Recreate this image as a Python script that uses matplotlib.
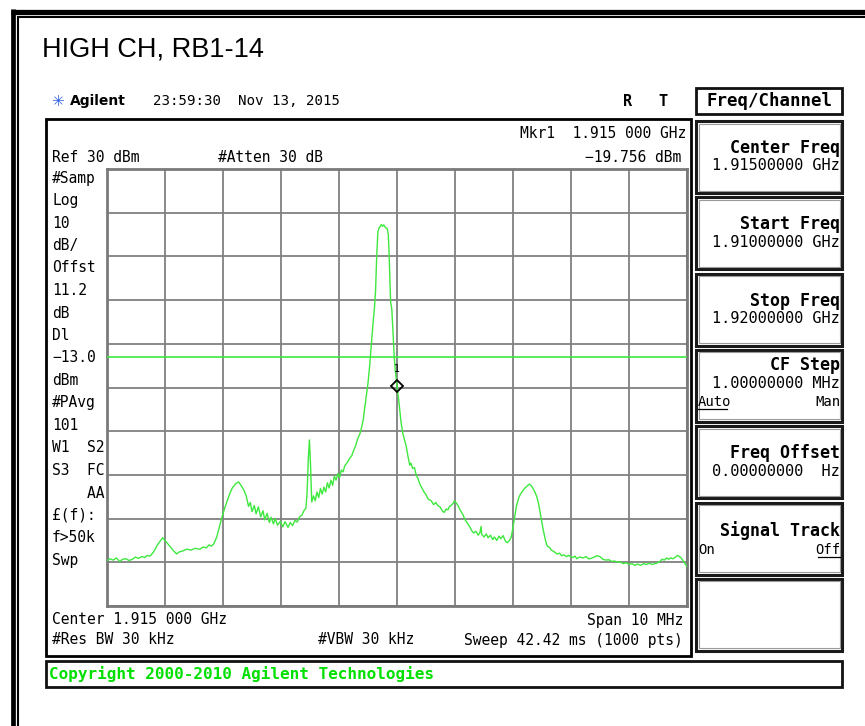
import numpy as np
import matplotlib
matplotlib.use("Agg")
import matplotlib.pyplot as plt
from matplotlib.patches import Rectangle

# 画面設定 (スペアナのスクリーンショット)
title = "HIGH CH, RB1-14"
start_mhz = 1910.0
stop_mhz = 1920.0
ref_dbm = 30
db_per_div = 10
display_line_dbm = -13.0
marker_mhz = 1915.0
marker_dbm = -19.756

# トレース (開始周波数からのオフセット MHz, レベル dBm) 画像から読み取り
offset_mhz = [
    0.00, 0.05, 0.11, 0.16, 0.22, 0.27, 0.33, 0.38, 0.44, 0.49, 0.54, 0.60, 0.65, 0.70, 0.74,
    0.80, 0.87, 0.93, 0.96, 1.00, 1.05, 1.10, 1.15, 1.20, 1.25, 1.31, 1.37, 1.45, 1.52, 1.60,
    1.66, 1.71, 1.76, 1.80, 1.84, 1.89, 1.94, 1.98, 2.03, 2.07, 2.12, 2.16, 2.22, 2.27, 2.32,
    2.36, 2.40, 2.44, 2.47, 2.50, 2.54, 2.57, 2.61, 2.65, 2.69, 2.72, 2.76, 2.80, 2.83, 2.87,
    2.90, 2.94, 2.99, 3.03, 3.07, 3.12, 3.16, 3.20, 3.24, 3.28, 3.32, 3.36, 3.40, 3.43, 3.45,
    3.47, 3.49, 3.51, 3.53, 3.56, 3.59, 3.62, 3.65, 3.68, 3.71, 3.74, 3.77, 3.80, 3.83, 3.86,
    3.89, 3.92, 3.95, 3.98, 4.01, 4.04, 4.07, 4.10, 4.14, 4.18, 4.22, 4.25, 4.29, 4.32, 4.36,
    4.39, 4.42, 4.44, 4.47, 4.50, 4.53, 4.55, 4.57, 4.59, 4.61, 4.63, 4.65, 4.67, 4.69, 4.71,
    4.73, 4.75, 4.77, 4.79, 4.81, 4.83, 4.85, 4.86, 4.87, 4.89, 4.91, 4.93, 4.95, 4.97, 5.00,
    5.03, 5.07, 5.10, 5.13, 5.16, 5.19, 5.22, 5.24, 5.27, 5.30, 5.33, 5.36, 5.40, 5.43, 5.47,
    5.50, 5.54, 5.59, 5.63, 5.67, 5.70, 5.74, 5.78, 5.81, 5.85, 5.88, 5.90, 5.94, 5.97, 5.99,
    6.02, 6.05, 6.10, 6.14, 6.17, 6.21, 6.25, 6.29, 6.32, 6.36, 6.40, 6.43, 6.45, 6.46, 6.50,
    6.54, 6.57, 6.61, 6.65, 6.68, 6.72, 6.76, 6.79, 6.83, 6.87, 6.90, 6.94, 6.97, 7.00, 7.03,
    7.06, 7.10, 7.13, 7.17, 7.20, 7.24, 7.28, 7.31, 7.34, 7.38, 7.41, 7.44, 7.46, 7.49, 7.52,
    7.56, 7.59, 7.63, 7.66, 7.70, 7.73, 7.76, 7.80, 7.84, 7.88, 7.92, 7.96, 7.99, 8.03, 8.07,
    8.10, 8.15, 8.21, 8.26, 8.30, 8.35, 8.40, 8.45, 8.50, 8.55, 8.60, 8.65, 8.70, 8.75, 8.80,
    8.85, 8.90, 8.95, 9.00, 9.05, 9.10, 9.15, 9.20, 9.25, 9.30, 9.35, 9.40, 9.45, 9.50, 9.54,
    9.57, 9.61, 9.65, 9.68, 9.72, 9.76, 9.80, 9.84, 9.87, 9.90, 9.93, 9.96, 10.00,
]
level_dbm = [
    -59.6, -59.2, -59.5, -59.0, -59.8, -59.3, -59.2, -59.6, -59.3, -58.8, -59.1, -58.7, -58.9, -58.4, -58.6,
    -57.7, -56.0, -54.9, -54.4, -55.0, -55.8, -56.6, -57.4, -58.1, -57.6, -57.4, -57.0, -57.2, -56.8, -57.0,
    -56.5, -56.7, -56.0, -56.3, -55.8, -54.3, -51.8, -49.8, -47.6, -46.0, -44.2, -43.0, -42.0, -41.6, -42.6,
    -43.5, -44.8, -47.2, -46.3, -48.4, -47.0, -48.9, -47.3, -49.6, -48.2, -50.3, -48.8, -50.9, -49.7, -51.2,
    -50.0, -51.5, -50.6, -51.9, -50.7, -52.0, -50.9, -51.6, -50.4, -50.8, -49.6, -49.2, -48.1, -47.6, -44.0,
    -36.5, -32.0, -38.0, -46.2, -44.8, -45.9, -43.9, -45.2, -43.1, -44.4, -42.8, -43.9, -41.8, -43.0, -41.2,
    -42.4, -40.3, -41.2, -39.7, -40.6, -38.9, -39.3, -37.9, -37.2, -36.3, -35.6, -34.5, -33.2, -31.8, -30.6,
    -29.1, -27.2, -25.0, -22.0, -19.0, -14.8, -11.5, -8.0, -4.8, -2.0, 2.0, 10.0, 15.6, 16.5, 16.8,
    17.3, 16.9, 17.2, 16.8, 16.5, 16.4, 15.0, 12.0, 8.0, -0.5, -2.0, -7.0, -12.5, -16.0, -19.756,
    -22.9, -28.0, -30.5, -32.0, -33.5, -35.8, -37.8, -37.3, -38.5, -38.3, -40.0, -40.8, -42.3, -43.0, -44.0,
    -44.5, -45.6, -45.9, -46.8, -46.3, -47.0, -47.3, -48.2, -48.6, -47.8, -48.0, -47.3, -46.9, -46.5, -45.9,
    -46.4, -47.0, -48.3, -49.2, -50.2, -51.0, -51.8, -52.8, -53.3, -52.9, -53.8, -53.2, -51.8, -53.6, -54.2,
    -53.5, -54.4, -53.8, -54.8, -54.2, -55.0, -54.0, -54.6, -53.9, -55.2, -55.5, -55.0, -54.2, -52.0, -49.5,
    -47.1, -45.2, -44.4, -43.6, -43.1, -42.6, -42.1, -42.4, -43.0, -44.0, -45.0, -46.5, -48.0, -50.2, -52.5,
    -55.0, -56.3, -56.6, -57.2, -57.5, -57.8, -58.1, -57.9, -58.5, -58.3, -58.7, -58.4, -58.7, -58.9, -58.6,
    -59.2, -58.8, -59.0, -58.7, -59.2, -59.1, -58.8, -58.5, -58.7, -59.3, -59.5, -59.4, -59.8, -59.7, -60.0,
    -59.9, -60.3, -60.1, -60.5, -60.3, -60.7, -60.4, -60.7, -60.3, -60.5, -60.2, -60.5, -60.3, -60.1, -59.7,
    -59.3, -59.5, -59.0, -59.3, -59.0, -59.2, -58.8, -58.4, -58.7, -59.0, -59.6, -60.2, -61.0,
]

# 左側の注記
left_notes = ["#Samp", "Log", "10", "dB/", "Offst", "11.2", "dB", "Dl", "-13.0", "dBm",
              "#PAvg", "101", "W1  S2", "S3  FC", "    AA", "£(f):", "f>50k", "Swp"]

# ソフトキー (ラベル, 値)
softkeys = [("Center Freq", "1.91500000 GHz"),
            ("Start Freq", "1.91000000 GHz"),
            ("Stop Freq", "1.92000000 GHz"),
            ("CF Step", "1.00000000 MHz"),
            ("Freq Offset", "0.00000000  Hz"),
            ("Signal Track", None),
            (None, None)]

W, H = 865, 726
MONO = "DejaVu Sans Mono"
GREEN = "#3ee83e"

fig = plt.figure(figsize=(W / 100, H / 100), dpi=100)
bg = fig.add_axes([0, 0, 1, 1])
bg.set_xlim(0, W)
bg.set_ylim(H, 0)
bg.axis("off")

# 外枠 (太線 + 細線)
bg.plot([11, W], [11.5, 11.5], color="black", lw=3.8, solid_capstyle="butt")
bg.plot([13, 13], [9, H], color="black", lw=3.4, solid_capstyle="butt")
bg.plot([18, W], [17, 17], color="black", lw=1.5, solid_capstyle="butt")
bg.plot([18, 18], [16, H], color="black", lw=1.5, solid_capstyle="butt")

bg.text(42, 50, title, fontsize=19.5, family="Liberation Sans", va="center", ha="left")

# ヘッダ行
bg.text(57, 101, "\u2733", fontsize=11, color="#3060e0", va="center", ha="center")
bg.text(70, 101, "Agilent", fontsize=10, fontweight="bold", family="DejaVu Sans",
        va="center", ha="left")
bg.text(153, 101, "23:59:30  Nov 13, 2015", fontsize=10.2, family=MONO, va="center")
bg.text(628, 101, "R", fontsize=11, fontweight="bold", family=MONO, va="center", ha="center")
bg.text(663, 101, "T", fontsize=11, fontweight="bold", family=MONO, va="center", ha="center")

# 画面パネル
bg.add_patch(Rectangle((46, 119), 645, 537, fill=False, ec="black", lw=2.0))
bg.text(686, 133, "Mkr1  1.915 000 GHz", fontsize=10.5, family=MONO, va="center", ha="right")
bg.text(52, 158, "Ref 30 dBm", fontsize=10.5, family=MONO, va="center")
bg.text(218, 158, "#Atten 30 dB", fontsize=10.5, family=MONO, va="center")
bg.text(681, 158, "\u221219.756 dBm", fontsize=10.5, family=MONO, va="center", ha="right")
for i, s in enumerate(left_notes):
    bg.text(52, 178 + 22.5 * i, s.replace("-", "\u2212"), fontsize=10.5, family=MONO,
            va="center", ha="left")
bg.text(52, 620, "Center 1.915 000 GHz", fontsize=10.5, family=MONO, va="center")
bg.text(683, 620, "Span 10 MHz", fontsize=10.5, family=MONO, va="center", ha="right")
bg.text(52, 640, "#Res BW 30 kHz", fontsize=10.5, family=MONO, va="center")
bg.text(318, 640, "#VBW 30 kHz", fontsize=10.5, family=MONO, va="center")
bg.text(683, 640, "Sweep 42.42 ms (1000 pts)", fontsize=10.5, family=MONO, va="center", ha="right")

# ソフトキー
bg.add_patch(Rectangle((696, 88), 146, 26, fill=False, ec="#111111", lw=2.0))
bg.text(769, 101, "Freq/Channel", fontsize=12.5, family=MONO, fontweight="bold",
        va="center", ha="center")
for k, (lab, val) in enumerate(softkeys):
    top = 121 + 76.3 * k
    bg.add_patch(Rectangle((696, top), 146, 72, fill=False, ec="#1a1a1a", lw=2.2))
    bg.add_patch(Rectangle((698.5, top + 2.5), 141, 67, fill=False, ec="#9a9a9a", lw=0.8))
    if lab is None:
        continue
    if lab == "CF Step":
        bg.text(840, top + 15, lab, fontsize=12, family=MONO, fontweight="bold", va="center", ha="right")
        bg.text(840, top + 34, val, fontsize=11, family=MONO, va="center", ha="right")
        bg.text(698, top + 52, "Auto", fontsize=10, family=MONO, va="center")
        bg.plot([698, 727], [top + 59, top + 59], color="black", lw=0.9)
        bg.text(840, top + 52, "Man", fontsize=10, family=MONO, va="center", ha="right")
    elif lab == "Signal Track":
        bg.text(840, top + 28, lab, fontsize=12, family=MONO, fontweight="bold", va="center", ha="right")
        bg.text(698, top + 47, "On", fontsize=10, family=MONO, va="center")
        bg.text(840, top + 47, "Off", fontsize=10, family=MONO, va="center", ha="right")
        bg.plot([818, 840], [top + 54, top + 54], color="black", lw=0.9)
    else:
        bg.text(840, top + 27, lab, fontsize=12, family=MONO, fontweight="bold", va="center", ha="right")
        bg.text(840, top + 45, val, fontsize=11, family=MONO, va="center", ha="right")

# コピーライト行
bg.add_patch(Rectangle((46, 661), 796, 26, fill=False, ec="#111111", lw=2.0))
bg.text(49, 674, "Copyright 2000-2010 Agilent Technologies", fontsize=11.5, family=MONO,
        fontweight="bold", color="#00e000", va="center")

# グラティクル
ax = fig.add_axes([107 / W, 1 - 606 / H, 580 / W, 437 / H])
bottom_dbm = ref_dbm - 10 * db_per_div
ax.set_xlim(start_mhz, stop_mhz)
ax.set_ylim(bottom_dbm, ref_dbm)
ax.set_xticks(np.linspace(start_mhz, stop_mhz, 11))
ax.set_yticks(np.arange(bottom_dbm, ref_dbm + 1, db_per_div))
ax.tick_params(length=0, labelbottom=False, labelleft=False)
ax.grid(True, color="#808080", lw=1.3)
for sp in ax.spines.values():
    sp.set_color("#7a7a7a")
    sp.set_linewidth(2.0)

freq = start_mhz + np.array(offset_mhz)
ax.plot(freq, level_dbm, color=GREEN, lw=1.0, zorder=3)
ax.axhline(display_line_dbm, color=GREEN, lw=1.2, zorder=3)
ax.plot([marker_mhz], [marker_dbm], marker="D", ms=6, mfc="none", mec="black", mew=1.3,
        zorder=4, clip_on=False)
ax.annotate("1", (marker_mhz, marker_dbm), xytext=(0, 9), textcoords="offset points",
            ha="center", va="bottom", fontsize=7, family=MONO)

fig.savefig("out.png", dpi=100)
